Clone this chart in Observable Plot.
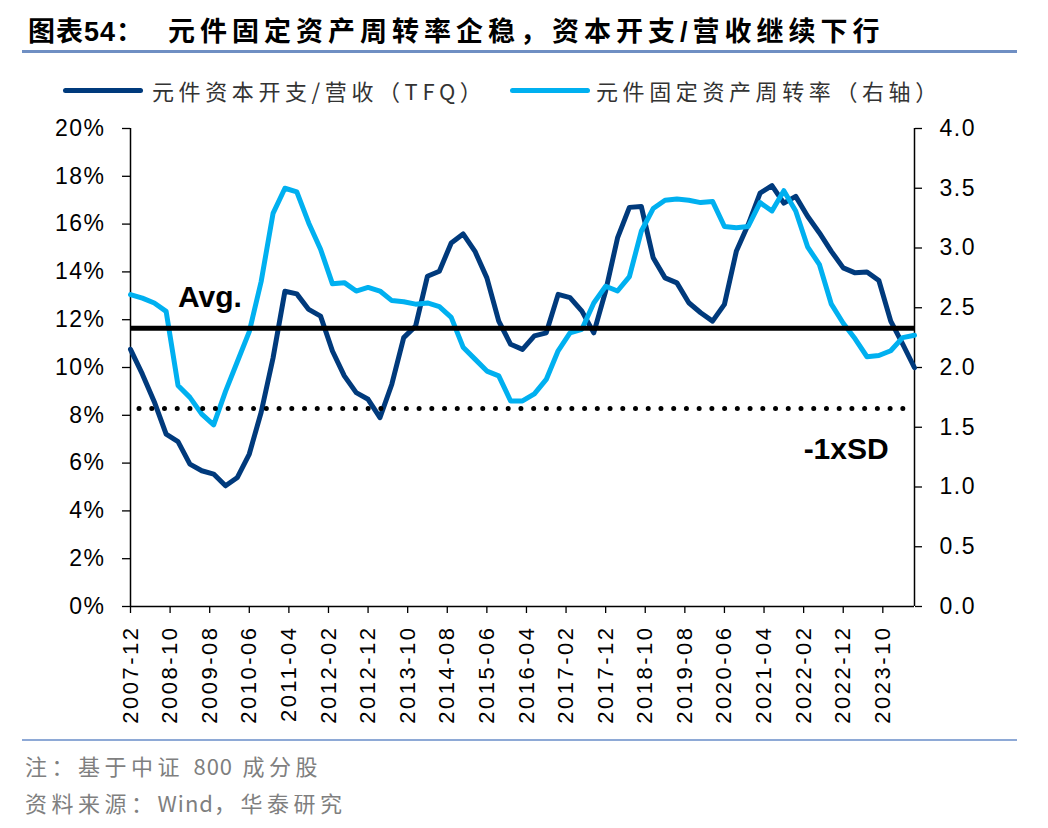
<!DOCTYPE html>
<html><head><meta charset="utf-8">
<script src="https://cdn.jsdelivr.net/npm/d3@7"></script>
<script src="https://cdn.jsdelivr.net/npm/@observablehq/plot@0.6"></script>
<style>
body{margin:0;background:#fff;}
#page{position:relative;width:1048px;height:828px;overflow:hidden;font-family:"Liberation Sans","Noto Sans CJK SC",sans-serif;background:#fff;}
.abs{position:absolute;white-space:nowrap;}
#chart{position:absolute;left:0;top:0;}
.title{font-family:"Liberation Sans","Noto Sans CJK SC",sans-serif;font-weight:bold;font-size:27px;line-height:27px;color:#000;}
.rule{position:absolute;left:22px;width:995px;}
.legtxt{font-family:"Noto Sans CJK SC","Liberation Sans",sans-serif;font-size:22px;line-height:22px;color:#333;letter-spacing:4.6px;}
.sw{position:absolute;height:5px;width:80px;border-radius:3px;}
.foot{font-family:"Noto Sans CJK SC","Liberation Sans",sans-serif;font-size:22px;line-height:22px;color:#7f7f7f;letter-spacing:4.5px;}
.foot .lat{letter-spacing:1px;}
g[aria-label="x-axis tick label"] text{letter-spacing:2.5px;}
g[aria-label="y-axis tick label"] text{letter-spacing:1.5px;}
</style></head>
<body><div id="page">
  <div class="abs title" style="left:28px;top:19px;letter-spacing:1px;">图表54：</div>
  <div class="abs title" style="left:168px;top:19px;letter-spacing:5px;">元件固定资产周转率企稳，资本开支/营收继续下行</div>
  <div class="rule" style="top:50px;height:3px;background:#6f8fc3;"></div>
  <div id="legend"></div>
  <div id="chart"></div>
  <div class="rule" style="top:739px;height:2px;background:#8ea9d6;"></div>
  <div class="abs foot" style="left:25px;top:754px;">注：基于中证 <span class="lat">800</span> 成分股</div>
  <div class="abs foot" style="left:25px;top:791px;">资料来源：<span class="lat">Wind</span>，华泰研究</div>
</div>
<script>
// ---------- data ----------
const quarters = [
  "2007-12",
  "2008-03","2008-06","2008-09","2008-12",
  "2009-03","2009-06","2009-09","2009-12",
  "2010-03","2010-06","2010-09","2010-12",
  "2011-03","2011-06","2011-09","2011-12",
  "2012-03","2012-06","2012-09","2012-12",
  "2013-03","2013-06","2013-09","2013-12",
  "2014-03","2014-06","2014-09","2014-12",
  "2015-03","2015-06","2015-09","2015-12",
  "2016-03","2016-06","2016-09","2016-12",
  "2017-03","2017-06","2017-09","2017-12",
  "2018-03","2018-06","2018-09","2018-12",
  "2019-03","2019-06","2019-09","2019-12",
  "2020-03","2020-06","2020-09","2020-12",
  "2021-03","2021-06","2021-09","2021-12",
  "2022-03","2022-06","2022-09","2022-12",
  "2023-03","2023-06","2023-09","2023-12",
  "2024-03","2024-06"
];
// 元件资本开支/营收（TFQ），%
const capexRatio = [
  10.76,
  9.72, 8.57, 7.21, 6.90,
  5.96, 5.68, 5.54, 5.05,
  5.40, 6.38, 8.13, 10.40,
  13.19, 13.08, 12.43, 12.15,
  10.69, 9.65, 8.95, 8.67,
  7.90, 9.30, 11.25, 11.73,
  13.82, 14.03, 15.21, 15.59,
  14.86, 13.75, 11.94, 10.97,
  10.76, 11.32, 11.45, 13.06,
  12.92, 12.36, 11.45, 13.20,
  15.42, 16.70, 16.74, 14.59,
  13.75, 13.54, 12.71, 12.29,
  11.94, 12.64, 14.86, 15.98,
  17.30, 17.61, 16.88, 17.16,
  16.33, 15.63, 14.86, 14.17,
  13.96, 14.00, 13.64, 11.94,
  10.99, 9.99
];
// 元件固定资产周转率（右轴）
const assetTurnover = [
  2.61,
  2.58, 2.54, 2.47, 1.85,
  1.75, 1.61, 1.52, 1.80,
  2.05, 2.30, 2.72, 3.29,
  3.50, 3.47, 3.21, 2.99,
  2.70, 2.71, 2.64, 2.67,
  2.64, 2.56, 2.55, 2.53,
  2.54, 2.51, 2.42, 2.17,
  2.07, 1.97, 1.93, 1.72,
  1.72, 1.78, 1.90, 2.14,
  2.29, 2.32, 2.54, 2.68,
  2.64, 2.76, 3.14, 3.33,
  3.40, 3.41, 3.40, 3.38,
  3.39, 3.18, 3.17, 3.18,
  3.38, 3.31, 3.48, 3.31,
  3.01, 2.86, 2.53, 2.37,
  2.24, 2.09, 2.10, 2.14,
  2.25, 2.27
];
const avgValue = 11.64;      // Avg.
const minusSdValue = 8.28;   // -1xSD
const tickLabels = ["2007-12","2008-10","2009-08","2010-06","2011-04","2012-02","2012-12","2013-10","2014-08","2015-06","2016-04","2017-02","2017-12","2018-10","2019-08","2020-06","2021-04","2022-02","2022-12","2023-10"];
const leftTicks = [0,2,4,6,8,10,12,14,16,18,20];
const rightTicks = [0,0.5,1,1.5,2,2.5,3,3.5,4];
const seriesNames = ["元件资本开支/营收（TFQ）","元件固定资产周转率（右轴）"];
const annotations = [
  {label:"Avg.", at:"2008-12", value:avgValue, dy:-21},
  {label:"-1xSD", at:"2022-02", value:minusSdValue, dy:50}
];

// ---------- styles ----------
const DARK = "#003a7c", LIGHT = "#00b0f0";
const RATIO = 5; // right axis value * 5 -> left axis %

const monthIndex = s => { const [y,m] = s.split("-").map(Number); return (y-2007)*12 + (m-12); };
const rows = quarters.map((q,i)=>({m:monthIndex(q), capex:capexRatio[i], turn:assetTurnover[i]*RATIO}));
const xEnd = monthIndex(quarters[quarters.length-1]);
const labelOf = new Map(tickLabels.map(t=>[monthIndex(t), t]));

// legend
const legend = document.getElementById("legend");
const legPos = [{sw:63, tx:152},{sw:510, tx:596}];
[DARK, LIGHT].forEach((c,i)=>{
  const s = document.createElement("div"); s.className="sw";
  s.style.left = legPos[i].sw+"px"; s.style.top="88px"; s.style.background=c; legend.appendChild(s);
  const t = document.createElement("div"); t.className="abs legtxt";
  t.style.left = legPos[i].tx+"px"; t.style.top="79px"; t.textContent = seriesNames[i]; legend.appendChild(t);
});

const chart = Plot.plot({
  width:1048, height:740,
  marginTop:128, marginBottom:134, marginLeft:130, marginRight:134,
  style:{fontFamily:"Liberation Sans, Arial, sans-serif", fontSize:"23px", color:"#000", background:"transparent"},
  x:{domain:[0,xEnd], axis:null},
  y:{domain:[0,20], axis:null},
  marks:[
    Plot.axisY(leftTicks, {anchor:"left", label:null, tickSize:8, tickPadding:17, strokeWidth:1.3, tickFormat:d=>d+"%", fontSize:23}),
    Plot.axisY(rightTicks.map(d=>d*RATIO), {anchor:"right", label:null, tickSize:7, tickPadding:18, strokeWidth:1.3, tickFormat:d=>(d/RATIO).toFixed(1), fontSize:23}),
    Plot.axisX(tickLabels.map(monthIndex), {anchor:"bottom", label:null, tickSize:7, tickPadding:12, strokeWidth:1.3, tickRotate:-90, tickFormat:d=>labelOf.get(d), fontSize:22}),
    Plot.ruleX([0, xEnd], {stroke:"#000", strokeWidth:1.5}),
    Plot.ruleY([0], {stroke:"#000", strokeWidth:1.5}),
    Plot.line(rows, {x:"m", y:"capex", stroke:DARK, strokeWidth:5, strokeLinejoin:"round"}),
    Plot.line(rows, {x:"m", y:"turn", stroke:LIGHT, strokeWidth:5, strokeLinejoin:"round"}),
    Plot.ruleY([avgValue], {stroke:"#000", strokeWidth:5}),
    Plot.ruleY([minusSdValue], {stroke:"#000", strokeWidth:5, strokeLinecap:"round", strokeDasharray:"0 12.73", strokeDashoffset:3.7}),
    ...annotations.map(a=>Plot.text([a], {x:d=>monthIndex(d.at), y:"value", text:"label", textAnchor:"start", lineAnchor:"bottom", dy:a.dy, fontSize:30, fontWeight:"bold", fill:"#000"}))
  ]
});
document.getElementById("chart").appendChild(chart);
</script>
</body></html>
